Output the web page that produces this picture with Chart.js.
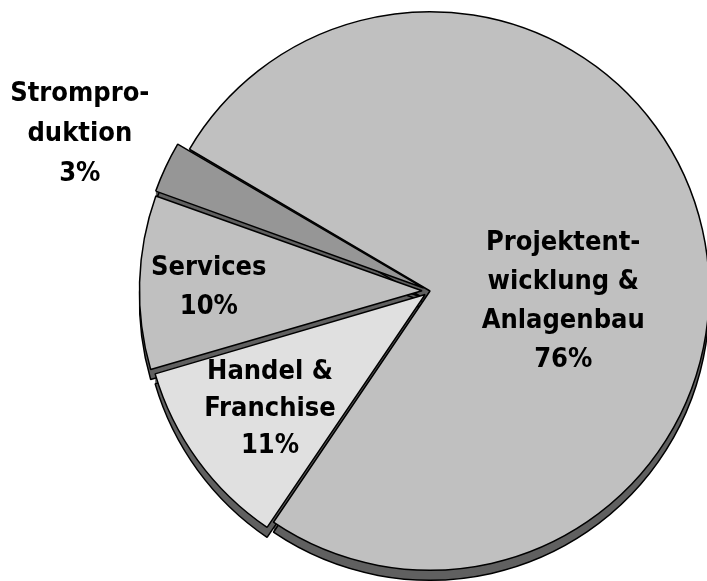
<!DOCTYPE html>
<html>
<head>
<meta charset="utf-8">
<script src="https://cdn.jsdelivr.net/npm/chart.js@4.4.1/dist/chart.umd.min.js"></script>
<style>
html,body{margin:0;padding:0;background:#fff;overflow:hidden;}
#wrap{width:707px;height:581px;position:relative;overflow:hidden;}
#c{position:absolute;left:0;top:-5px;}
</style>
</head>
<body>
<div id="wrap"><canvas id="c" width="740" height="620"></canvas></div>
<script>
const categories = [
  ["Projektent-", "wicklung &", "Anlagenbau"],
  ["Handel &", "Franchise"],
  ["Services"],
  ["Strompro-", "duktion"]
];
const shares = [76, 11, 10, 3];
const percentLabels = ["76%", "11%", "10%", "3%"];
const sliceColors = ["#c0c0c0", "#e0e0e0", "#c0c0c0", "#969696"];
const sliceOffsets = [0, 24, 32, 28];
// label anchor relative to pie centre, as fraction of radius
const labelAnchors = [[0.477, 0.039], [-0.573, 0.423], [-0.792, -0.014], [-1.254, -0.563]];
const lineHeights = [39, 37, 39, 40];

const DEPTH = 10;
const extrude = {
  id: 'extrude',
  beforeDatasetsDraw(chart) {
    const ctx = chart.ctx;
    const meta = chart.getDatasetMeta(0);
    const Arc = Chart.ArcElement;
    meta.data.forEach((el) => {
      for (let d = 1; d <= DEPTH; d++) {
        const copy = Object.assign(Object.create(Object.getPrototypeOf(el)), el);
        copy.options = Object.assign({}, el.options, {backgroundColor: '#606060', borderWidth: d === DEPTH ? 1.5 : 0, borderColor: '#000'});
        ctx.save();
        ctx.translate(0, d);
        Arc.prototype.draw.call(copy, ctx);
        ctx.restore();
      }
    });
  }
};

const labels = {
  id: 'sliceLabels',
  afterDatasetsDraw(chart) {
    const ctx = chart.ctx;
    const meta = chart.getDatasetMeta(0);
    const el0 = meta.data[0];
    const cx = el0.x, cy = el0.y, r = el0.outerRadius;
    ctx.save();
    ctx.font = 'bold 27px "DejaVu Sans Condensed", "DejaVu Sans", sans-serif';
    ctx.fillStyle = '#000';
    ctx.textAlign = 'center';
    ctx.textBaseline = 'middle';
    categories.forEach((lines, i) => {
      const lh = lineHeights[i];
      const all = lines.concat([percentLabels[i]]);
      const x = cx + labelAnchors[i][0] * r;
      const y = cy + labelAnchors[i][1] * r;
      const top = y - (all.length - 1) * lh / 2;
      all.forEach((t, k) => ctx.fillText(t, x, top + k * lh));
    });
    ctx.restore();
  }
};

new Chart(document.getElementById('c'), {
  type: 'pie',
  data: {
    labels: categories.map(l => l.join(' ')),
    datasets: [{
      data: shares,
      backgroundColor: sliceColors,
      borderColor: '#000',
      borderWidth: 1.5,
      offset: sliceOffsets
    }]
  },
  options: {
    responsive: false,
    animation: false,
    rotation: 300.5,
    layout: {padding: {left: 134, right: 14, top: 0, bottom: 28}},
    plugins: {legend: {display: false}, tooltip: {enabled: false}}
  },
  plugins: [extrude, labels]
});
</script>
</body>
</html>
